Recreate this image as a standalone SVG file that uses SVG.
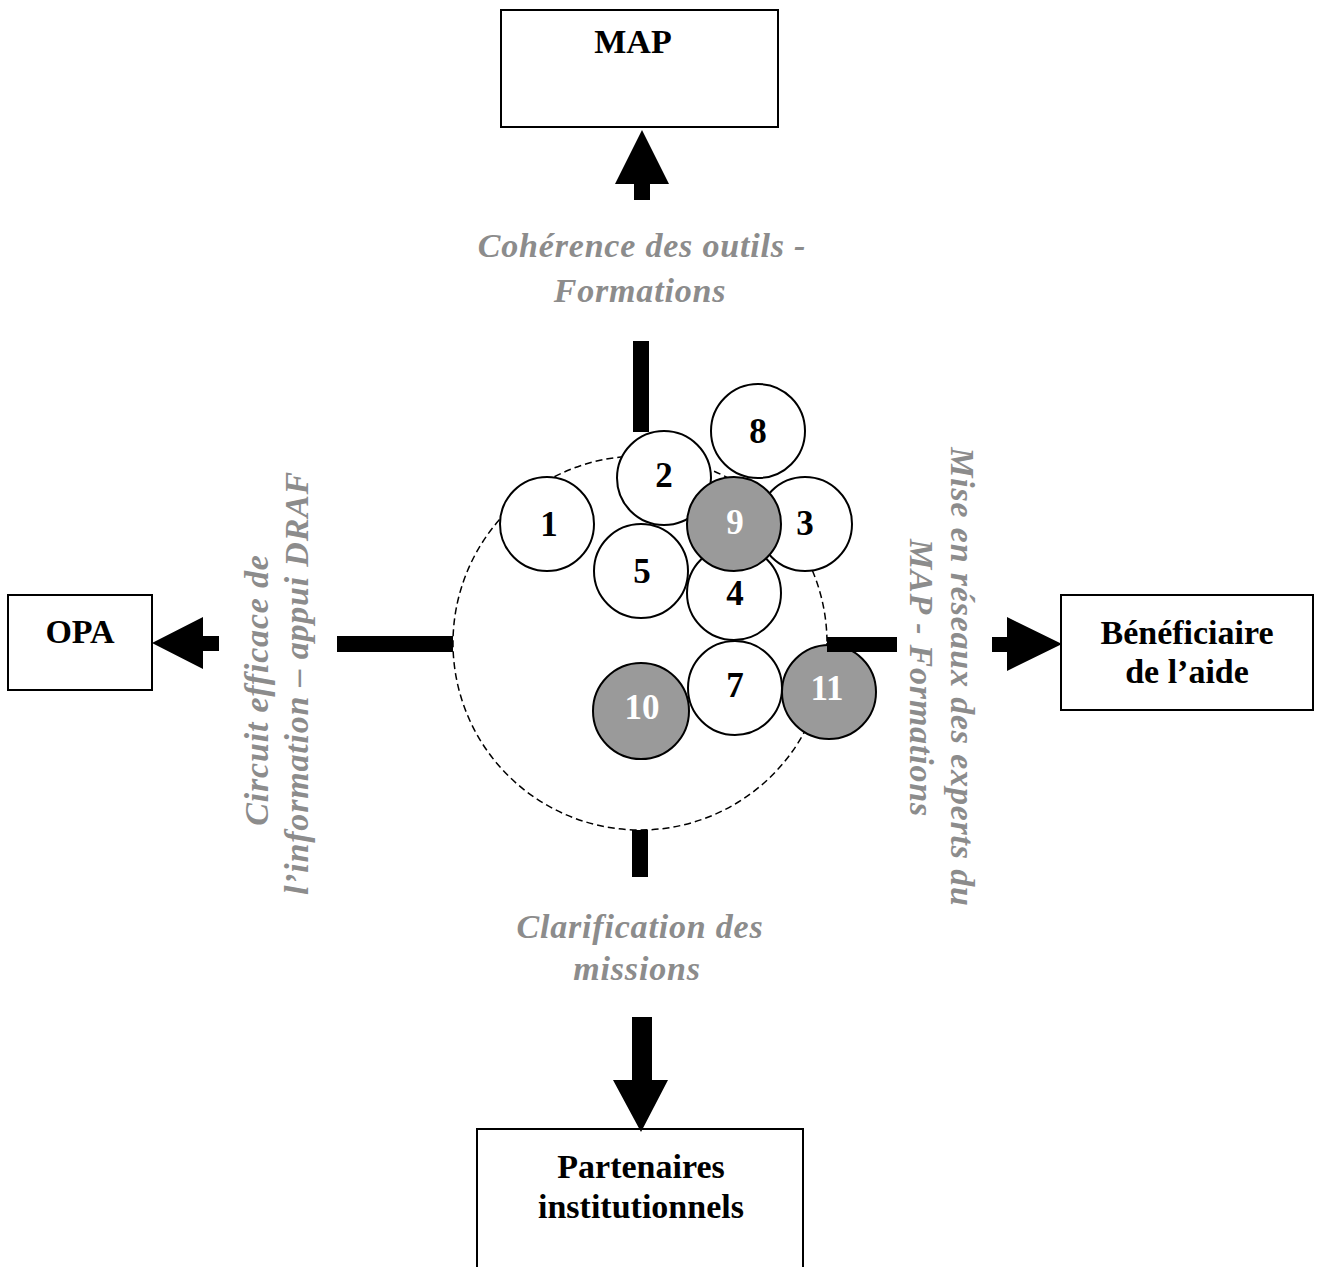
<svg xmlns="http://www.w3.org/2000/svg" width="1326" height="1267" viewBox="0 0 1326 1267">
  <style>
    .box { fill: #ffffff; stroke: #000000; stroke-width: 2; }
    .title { font-family: "Liberation Serif", "Times New Roman", serif; font-weight: bold; font-size: 34px; fill: #000000; text-anchor: middle; }
    .axis { font-family: "Liberation Serif", "Times New Roman", serif; font-weight: bold; font-style: italic; font-size: 34px; letter-spacing: 0.8px; fill: #8c8c8c; text-anchor: middle; }
    .ring { fill: none; stroke: #000000; stroke-width: 1.5; stroke-dasharray: 7 4; }
    .c { fill: #ffffff; stroke: #000000; stroke-width: 2; }
    .cg { fill: #9a9a9a; stroke: #000000; stroke-width: 2; }
    .num { font-family: "Liberation Serif", "Times New Roman", serif; font-weight: bold; font-size: 35px; fill: #000000; text-anchor: middle; }
    .numw { font-family: "Liberation Serif", "Times New Roman", serif; font-weight: bold; font-size: 35px; fill: #ffffff; text-anchor: middle; }
    .solid { fill: #000000; }
  </style>

  <rect width="1326" height="1267" fill="#ffffff"/>

  <!-- outer partner boxes -->
  <g id="node-map">
    <rect class="box" x="501" y="10" width="277" height="117"/>
    <text class="title" x="633" y="53">MAP</text>
  </g>
  <g id="node-opa">
    <rect class="box" x="8" y="595" width="144" height="95"/>
    <text class="title" x="80" y="643">OPA</text>
  </g>
  <g id="node-beneficiaire">
    <rect class="box" x="1061" y="595" width="252" height="115"/>
    <text class="title" x="1187" y="644">Bénéficiaire</text>
    <text class="title" x="1187" y="683">de l’aide</text>
  </g>
  <g id="node-partenaires">
    <rect class="box" x="477" y="1129" width="326" height="160"/>
    <text class="title" x="641" y="1178">Partenaires</text>
    <text class="title" x="641" y="1218">institutionnels</text>
  </g>

  <!-- dashed perimeter around the cluster -->
  <g id="node-perimeter">
    <circle class="ring" cx="640" cy="643" r="187"/>
  </g>

  <!-- numbered cluster -->
  <g id="node-1"><circle class="c" cx="547" cy="524" r="47"/><text class="num" x="549" y="536">1</text></g>
  <g id="node-2"><circle class="c" cx="664" cy="478" r="47"/><text class="num" x="664" y="487">2</text></g>
  <g id="node-8"><circle class="c" cx="758" cy="431" r="47"/><text class="num" x="758" y="443">8</text></g>
  <g id="node-3"><circle class="c" cx="805" cy="524" r="47"/><text class="num" x="805" y="535">3</text></g>
  <g id="node-5"><circle class="c" cx="641" cy="571" r="47"/><text class="num" x="642" y="583">5</text></g>
  <g id="node-4"><circle class="c" cx="734" cy="593" r="47"/><text class="num" x="735" y="605">4</text></g>
  <g id="node-9"><circle class="cg" cx="734" cy="524" r="47"/><text class="numw" x="735" y="534">9</text></g>
  <g id="node-7"><circle class="c" cx="735" cy="688" r="47"/><text class="num" x="735" y="697">7</text></g>
  <g id="node-10"><circle class="cg" cx="641" cy="711" r="48"/><text class="numw" x="642" y="719">10</text></g>
  <g id="node-11"><circle class="cg" cx="829" cy="692" r="47"/><text class="numw" x="827" y="700">11</text></g>

  <!-- connectors: stubs from the perimeter and block arrows to the partners -->
  <g id="connectors">
    <rect class="solid" x="633" y="341" width="16" height="91"/>
    <rect class="solid" x="632" y="830" width="16" height="47"/>
    <rect class="solid" x="337" y="636" width="116" height="16"/>
    <rect class="solid" x="827" y="637" width="70" height="15"/>
    <!-- up to MAP -->
    <polygon class="solid" points="634,200 650,200 650,184 669,184 642,130 615,184 634,184"/>
    <!-- left to OPA -->
    <polygon class="solid" points="219,636 219,651 203,651 203,669 152,643 203,617 203,636"/>
    <!-- right to beneficiaire -->
    <polygon class="solid" points="992,637 1007,637 1007,617 1062,644 1007,671 1007,652 992,652"/>
    <!-- down to partners -->
    <polygon class="solid" points="632,1017 652,1017 652,1080 668,1080 641,1132 613,1080 632,1080"/>
  </g>

  <!-- axis captions -->
  <g id="label-top">
    <text class="axis" x="642" y="257">Cohérence des outils -</text>
    <text class="axis" x="640" y="302">Formations</text>
  </g>
  <g id="label-bottom">
    <text class="axis" x="640" y="938">Clarification des</text>
    <text class="axis" x="637" y="980">missions</text>
  </g>
  <g id="label-left">
    <text class="axis" transform="translate(268,690) rotate(-90)">Circuit efficace de</text>
    <text class="axis" transform="translate(308,683) rotate(-90)">l’information – appui DRAF</text>
  </g>
  <g id="label-right">
    <text class="axis" transform="translate(951,677) rotate(90)">Mise en réseaux des experts du</text>
    <text class="axis" transform="translate(910,678) rotate(90)">MAP - Formations</text>
  </g>
</svg>
